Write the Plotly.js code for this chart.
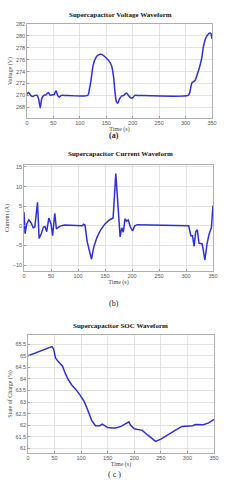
<!DOCTYPE html>
<html>
<head>
<meta charset="utf-8">
<script src="https://cdn.plot.ly/plotly-3.0.1.min.js"></script>
<style>html,body{margin:0;padding:0;background:#fff;}#chart{width:243px;height:480px;}</style>
</head>
<body>
<div id="chart"></div>
<script>
// Voltage waveform (a)
var voltTime = [0, 3, 7, 11, 15, 19, 22, 25, 28, 32, 36, 40, 44, 48, 51, 55, 58, 61, 65, 70, 115, 118, 121, 125, 130, 135, 140, 145, 150, 155, 160, 164, 166, 169, 172, 175, 179, 183, 188, 192, 196, 200, 204, 208, 305, 308, 312, 318, 322, 326, 330, 334, 338, 342, 346, 348, 350];
var voltage = [270.2, 270.5, 270.0, 269.8, 270.0, 270.0, 269.4, 267.9, 269.5, 270.0, 270.1, 270.5, 270.0, 270.1, 270.1, 270.8, 270.0, 269.7, 270.0, 270.0, 270.0, 271.0, 272.5, 275.0, 276.3, 276.8, 276.9, 276.7, 276.3, 275.8, 275.0, 273.0, 271.0, 269.0, 268.7, 269.4, 269.9, 270.0, 270.4, 270.0, 269.6, 269.6, 270.0, 270.0, 270.0, 270.5, 272.1, 272.5, 273.5, 274.6, 276.0, 278.3, 279.6, 280.2, 280.5, 280.4, 279.5];

// Current waveform (b)
var currTime = [0, 2, 5, 9, 13, 17, 20, 23, 25, 28, 32, 36, 39, 42, 46, 50, 53, 57, 60, 64, 68, 75, 108, 110, 113, 117, 121, 125, 129, 135, 142, 150, 158, 165, 170, 174, 178, 181, 184, 187, 190, 193, 197, 201, 205, 210, 305, 309, 312, 315, 318, 321, 324, 327, 330, 335, 339, 343, 347, 350];
var current = [3.5, -2.0, 0.5, 1.5, 0.8, -0.5, -0.3, 3.0, 6.0, -3.2, -2.0, -0.3, -0.2, -1.5, 2.0, 0.5, -2.5, 3.2, -0.8, -0.3, 0.0, 0.2, 0.0, 0.4, 0.2, -4.0, -6.0, -8.5, -5.5, -3.0, -1.0, 0.5, 1.5, 2.0, 13.3, 4.5, -2.8, -0.5, -1.6, 1.8, 1.2, 1.5, -0.3, -1.3, 0.0, 0.3, 0.0, -2.5, -2.5, -5.2, -1.5, -1.0, -4.4, -4.5, -4.6, -8.7, -4.5, -2.0, -0.5, 5.2];

// SOC waveform (c)
var socTime = [0, 20, 45, 48, 52, 57, 65, 70, 75, 82, 90, 98, 105, 110, 115, 120, 127, 135, 140, 145, 150, 158, 165, 175, 183, 190, 193, 200, 210, 215, 225, 240, 250, 260, 270, 280, 290, 300, 310, 315, 330, 340, 350];
var soc = [65.0, 65.18, 65.4, 65.3, 64.9, 64.75, 64.55, 64.25, 64.0, 63.75, 63.55, 63.3, 63.05, 62.8, 62.5, 62.2, 61.98, 61.98, 62.05, 61.98, 61.9, 61.88, 61.88, 61.95, 62.05, 62.15, 62.0, 61.85, 61.8, 61.78, 61.58, 61.3, 61.4, 61.55, 61.68, 61.82, 61.95, 61.97, 61.98, 62.03, 62.02, 62.1, 62.25];

var timeTicks = [0, 50, 100, 150, 200, 250, 300, 350];
var voltTicks = [268, 270, 272, 274, 276, 278, 280, 282];
var currTicks = [-10, -5, 0, 5, 10, 15];
var socTicks = [61, 61.5, 62, 62.5, 63, 63.5, 64, 64.5, 65, 65.5];
var socTickText = ['61', '61.5', '62', '62.5', '63', '63.5', '64', '64.5', '65', '65.5'];

var H = 480;
function py(px) { return 1 - px / H; }
var lineStyle = {color: '#2f2fd8', width: 1.5};
var tickFont = {family: 'Liberation Sans, Arial, sans-serif', size: 5.5, color: '#555'};
var axTitleFont = {family: 'Liberation Serif, Times New Roman, serif', size: 6, color: '#444'};

function xax(anchor) {
  return {
    anchor: anchor, domain: [0, 1], range: [0, 350], tickvals: timeTicks,
    showgrid: true, gridcolor: '#dcdcdc', gridwidth: 0.8,
    showline: true, linecolor: '#9a9a9a', linewidth: 0.8, mirror: true,
    ticks: 'inside', ticklen: 2, tickcolor: '#9a9a9a',
    tickfont: tickFont, zeroline: false,
    title: {text: 'Time (s)', font: axTitleFont, standoff: 1}
  };
}
function yax(anchor, range, tv, tt, title) {
  var a = {
    anchor: anchor, range: range, tickvals: tv,
    showgrid: true, gridcolor: '#dcdcdc', gridwidth: 0.8,
    showline: true, linecolor: '#9a9a9a', linewidth: 0.8, mirror: true,
    ticks: 'inside', ticklen: 2, tickcolor: '#9a9a9a',
    tickfont: tickFont, zeroline: false,
    title: {text: title, font: axTitleFont, standoff: 2}
  };
  if (tt) a.ticktext = tt;
  return a;
}

var traces = [
  {x: voltTime, y: voltage, xaxis: 'x', yaxis: 'y', mode: 'lines', line: Object.assign({shape: 'spline', smoothing: 0.6}, lineStyle), hoverinfo: 'none'},
  {x: currTime, y: current, xaxis: 'x2', yaxis: 'y2', mode: 'lines', line: lineStyle, hoverinfo: 'none'},
  {x: socTime, y: soc, xaxis: 'x3', yaxis: 'y3', mode: 'lines', line: lineStyle, hoverinfo: 'none'}
];

var xa1 = xax('y'); xa1.domain = [27/243, 212/243];
var xa2 = xax('y2'); xa2.domain = [24/243, 213/243];
var xa3 = xax('y3'); xa3.domain = [28/243, 214/243];
var ya1 = yax('x', [266.2, 282], voltTicks, null, 'Voltage (V)'); ya1.domain = [py(118), py(24)];
var ya2 = yax('x2', [-11.5, 15.5], currTicks, null, 'Current (A)'); ya2.domain = [py(271), py(165)];
var ya3 = yax('x3', [60.8, 65.9], socTicks, socTickText, 'State of Charge (%)'); ya3.domain = [py(453), py(335)];

var titleFont = {family: 'Liberation Serif, Times New Roman, serif', size: 7, color: '#111'};
var labelFont = {family: 'Liberation Serif, Times New Roman, serif', size: 8, color: '#222'};

function note(text, xpx, ypx, font) {
  return {text: text, x: xpx / 243, y: py(ypx), xref: 'paper', yref: 'paper',
          xanchor: 'center', yanchor: 'middle', showarrow: false, font: font};
}

var layout = {
  width: 243, height: 480,
  margin: {l: 0, r: 0, t: 0, b: 0},
  paper_bgcolor: '#fff', plot_bgcolor: '#fff',
  showlegend: false,
  xaxis: xa1, yaxis: ya1,
  xaxis2: xa2, yaxis2: ya2,
  xaxis3: xa3, yaxis3: ya3,
  annotations: [
    note('<b>Supercapacitor Voltage Waveform</b>', 120, 15, titleFont),
    note('<b>(a)</b>', 114, 135, labelFont),
    note('<b>Supercapacitor Current Waveform</b>', 120, 154, titleFont),
    note('(b)', 114, 303, labelFont),
    note('<b>Supercapacitor SOC Waveform</b>', 120, 326, titleFont),
    note('( c )', 114, 474, labelFont)
  ]
};

Plotly.newPlot('chart', traces, layout, {staticPlot: true, displayModeBar: false});
</script>
</body>
</html>
